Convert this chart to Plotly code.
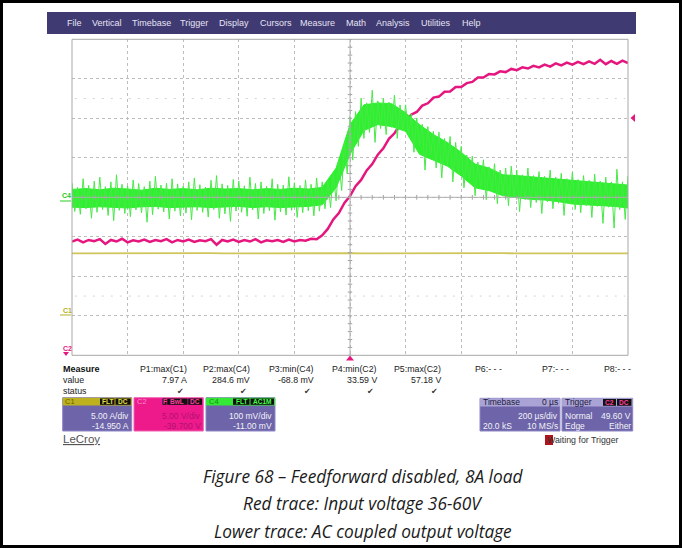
import plotly.graph_objects as go

W, H = 682, 548

# ---------------- data ----------------
TIME_US = list(range(-1000, 1001, 20))          # 200 us/div, trigger at 0 us

# C2 : input voltage (V), 5 V/div, offset -39.700 V
C2_INPUT_V = [
    34.1, 34.35, 34.0, 34.3, 34.15, 34.4, 33.8, 34.3, 34.1, 34.45,
    34.0, 34.25, 34.1, 34.35, 34.05, 34.3, 34.15, 34.4, 34.0, 34.3,
    34.1, 34.35, 34.05, 34.25, 34.15, 34.4, 33.7, 34.3, 34.1, 34.35,
    34.05, 34.3, 34.1, 34.4, 34.0, 34.25, 34.15, 34.3, 34.05, 34.35,
    34.1, 34.3, 34.2, 34.45, 34.4, 34.9, 35.7, 36.9, 37.7, 39.0,
    39.85, 41.1, 41.9, 43.1, 43.9, 45.1, 45.9, 47.1, 47.8, 48.85,
    49.3, 50.15, 50.5, 51.3, 51.6, 52.3, 52.45, 53.05, 53.1, 53.65,
    53.65, 54.15, 54.3, 54.85, 54.85, 55.3, 55.25, 55.65, 55.55, 55.95,
    55.8, 56.15, 56.0, 56.35, 56.15, 56.5, 56.25, 56.65, 56.4, 56.75,
    56.5, 56.85, 56.55, 56.9, 56.6, 57.1, 56.55, 56.95, 56.6, 57.0,
    56.7,
]

# C4 : AC coupled output voltage (mV), 100 mV/div, offset -11.00 mV
# noise extremes (spike tips) every 20 us
C4_UPPER_MV = [
    48, 36, 58, 41, 52, 62, 38, 50, 68, 44,
    40, 55, 46, 38, 52, 64, 42, 47, 58, 45,
    39, 50, 60, 43, 37, 54, 66, 45, 41, 56,
    52, 40, 62, 46, 50, 39, 58, 44, 42, 63,
    48, 41, 55, 44, 60, 50, 55, 72, 105, 150,
    215, 228, 262, 250, 282, 255, 262, 252, 270, 245,
    245, 222, 212, 196, 190, 178, 176, 160, 165, 150,
    140, 118, 115, 100, 106, 88, 96, 80, 85, 90,
    80, 68, 85, 66, 76, 64, 80, 62, 72, 58,
    75, 56, 66, 54, 70, 52, 62, 50, 82, 50,
    64,
]
C4_LOWER_MV = [
    -25, -32, -18, -42, -27, -20, -35, -48, -22, -30,
    -38, -21, -28, -52, -33, -19, -26, -44, -24, -36,
    -29, -46, -22, -27, -39, -20, -42, -31, -50, -24,
    -27, -37, -21, -44, -30, -23, -47, -26, -34, -22,
    -40, -28, -23, -36, -24, -18, -15, 2, 28, 70,
    105, 140, 160, 175, 150, 185, 170, 188, 160, 182,
    170, 125, 140, 80, 118, 85, 60, 92, 50, 72,
    35, 55, 15, 38, 5, 28, -5, 18, -10, 10,
    -25, 5, -15, -2, -30, 0, -18, -4, -35, -6,
    -20, -28, -10, -40, -12, -55, -14, -67, -20, -45,
    -25,
]
# dense core of the C4 trace every 50 us
CORE_TIME_US = list(range(-1000, 1001, 50))
C4_CORE_HI_MV = [
    31, 33, 30, 34, 32, 29, 34, 31, 33, 30,
    34, 32, 33, 30, 33, 31, 34, 32, 36, 85,
    195, 245, 250, 248, 225, 195, 170, 150, 125, 95,
    85, 68, 66, 63, 60, 56, 53, 50, 48, 45,
    42,
]
C4_CORE_LO_MV = [
    -14, -15, -13, -15, -16, -13, -12, -15, -14, -13,
    -15, -14, -12, -15, -13, -15, -13, -12, -8, 35,
    120, 180, 195, 190, 178, 120, 105, 90, 65, 35,
    28, 15, 10, 6, 4, 0, -6, -8, -10, -12,
    -16,
]

# C1 : load current (A), 5 A/div, offset -14.950 A
C1_TIME_US = list(range(-1000, 1001, 50))
C1_LOAD_A = [
    7.86, 7.87, 7.85, 7.86, 7.88, 7.86, 7.85, 7.87, 7.86, 7.86,
    7.88, 7.85, 7.86, 7.87, 7.86, 7.85, 7.86, 7.88, 7.86, 7.86,
    7.87, 7.85, 7.86, 7.86, 7.88, 7.86, 7.85, 7.86, 7.87, 7.86,
    7.86, 7.88, 7.85, 7.86, 7.87, 7.86, 7.85, 7.88, 7.86, 7.87,
    7.86,
]

MENU_ITEMS = ["File", "Vertical", "Timebase", "Trigger", "Display", "Cursors",
              "Measure", "Math", "Analysis", "Utilities", "Help"]
MEASURE_LABELS = ["P1:max(C1)", "P2:max(C4)", "P3:min(C4)", "P4:min(C2)",
                  "P5:max(C2)", "P6:- - -", "P7:- - -", "P8:- - -"]
MEASURE_VALUES = ["7.97 A", "284.6 mV", "-68.8 mV", "33.59 V", "57.18 V", "", "", ""]
MEASURE_OK = [True, True, True, True, True, False, False, False]
CAPTION = ["Figure 68 \u2013 Feedforward disabled, 8A load",
           "Red trace: Input voltage 36-60V",
           "Lower trace: AC coupled output voltage"]

# ---------------- layout helpers ----------------
SANS = "Liberation Sans, Arial, sans-serif"
PURPLE = "#3f3a72"
BOXP = "#6d64a9"
PINK = "#e5177f"
GREEN = "#2ef02e"
YEL = "#cfc55a"

def X(p):
    return p / W

def Y(p):
    return 1 - p / H

shapes, ann = [], []

def rect(x0, y0, x1, y1, fill=None, line=None, lw=0):
    shapes.append(dict(type="rect", xref="paper", yref="paper",
                       x0=X(x0), x1=X(x1), y0=Y(y1), y1=Y(y0),
                       fillcolor=fill or "rgba(0,0,0,0)",
                       line=dict(color=line or "rgba(0,0,0,0)", width=lw)))

def poly(pts, fill):
    d = "M " + " L ".join(f"{X(a):.5f},{Y(b):.5f}" for a, b in pts) + " Z"
    shapes.append(dict(type="path", xref="paper", yref="paper", path=d,
                       fillcolor=fill, line=dict(width=0)))

def txt(x, y, s, size=8.8, color="#222", anchor="left", family=SANS):
    ann.append(dict(xref="paper", yref="paper", x=X(x), y=Y(y), text=s,
                    showarrow=False, xanchor=anchor, yanchor="middle",
                    borderpad=0, font=dict(size=size, color=color, family=family)))

# ---------------- traces ----------------
fig = go.Figure()
fig.add_trace(go.Scatter(x=C1_TIME_US, y=C1_LOAD_A, yaxis="y4", mode="lines",
                         line=dict(color=YEL, width=1.8), hoverinfo="skip"))
# C4 dense core
fig.add_trace(go.Scatter(x=CORE_TIME_US, y=C4_CORE_LO_MV, yaxis="y3", mode="lines",
                         line=dict(color=GREEN, width=1), hoverinfo="skip"))
fig.add_trace(go.Scatter(x=CORE_TIME_US, y=C4_CORE_HI_MV, yaxis="y3", mode="lines",
                         fill="tonexty", fillcolor=GREEN,
                         line=dict(color=GREEN, width=1), hoverinfo="skip"))
# C4 noise: zig-zag between the extremes
zz_x, zz_y = [], []
for t, u, l in zip(TIME_US, C4_UPPER_MV, C4_LOWER_MV):
    zz_x += [t, t + 10]
    zz_y += [u, l]
fig.add_trace(go.Scatter(x=zz_x, y=zz_y, yaxis="y3", mode="lines",
                         line=dict(color="#48e848", width=1), hoverinfo="skip"))
fig.add_trace(go.Scatter(x=TIME_US, y=C2_INPUT_V, yaxis="y2", mode="lines",
                         line=dict(color=PINK, width=2.5), hoverinfo="skip"))

# ---------------- graticule ----------------
GX0, GX1, GY0, GY1 = 72, 628, 39.3, 355.3
rect(GX0, GY0, GX1, GY1, line="#a8a8a8", lw=1)
for j in range(-25, 26):
    shapes.append(dict(type="line", xref="x", yref="y", x0=j * 40, x1=j * 40,
                       y0=-0.06, y1=0.06, line=dict(color="#a0a0a0", width=1)))
for j in range(-20, 21):
    shapes.append(dict(type="line", xref="x", yref="y", x0=-8, x1=8,
                       y0=j * 0.2, y1=j * 0.2, line=dict(color="#a0a0a0", width=1)))
shapes.append(dict(type="line", xref="x", yref="y", x0=-1000, x1=1000, y0=0, y1=0,
                   line=dict(color="#b0b0b0", width=1)))
shapes.append(dict(type="line", xref="x", yref="y", x0=0, x1=0, y0=-4, y1=4,
                   line=dict(color="#b0b0b0", width=1)))
for yy in (2.5, -2.5):
    shapes.append(dict(type="line", xref="x", yref="y", x0=-990, x1=990, y0=yy, y1=yy,
                       line=dict(color="#d2d2d2", width=1, dash="2px,7px")))

# ---------------- frame + menu ----------------
rect(1.5, 1.5, 680.5, 546.5, line="#000", lw=3)
rect(47, 12, 636, 34, fill=PURPLE)
menu_x = [66, 90.8, 131.1, 178.9, 217.7, 258.5, 299.3, 345.2, 375, 419.8, 460.6]
for mx, m in zip(menu_x, MENU_ITEMS):
    txt(mx, 22.5, m, size=9, color="#e6e4f2")

# channel markers on the left / trigger markers
txt(61, 195.5, "<b>C4</b>", size=7, color="#22cc22")
rect(60, 200.5, 71, 201.5, fill="#22cc22")
txt(62, 310, "<b>C1</b>", size=7, color="#b8ae20")
rect(60, 314.5, 71, 315.5, fill="#b8ae20")
txt(62, 348, "<b>C2</b>", size=7, color=PINK)
poly([(63, 352), (69, 352), (66, 356)], PINK)
poly([(635, 114), (635, 122), (630.5, 118)], PINK)
poly([(346, 360.5), (354, 360.5), (350, 355.5)], PINK)

# ---------------- measurement table ----------------
txt(62, 368.5, "<b>Measure</b>", size=9, color="#111")
txt(62, 379.5, "value", size=8.8, color="#222")
txt(62, 391, "status", size=8.8, color="#222")
label_right = [188, 250.7, 315, 377.7, 441.7, 503, 570, 631.7]
for r, lab, val, ok in zip(label_right, MEASURE_LABELS, MEASURE_VALUES, MEASURE_OK):
    txt(r, 368.5, lab, size=8.8, color="#222", anchor="right")
    if val:
        txt(r, 379.5, val, size=8.8, color="#222", anchor="right")
    if ok:
        txt(r - 3, 391, "\u2714", size=8, color="#333", anchor="right",
            family="DejaVu Sans")

def badge(x0, x1, y0, y1, s, col):
    rect(x0, y0, x1, y1, fill="#111")
    txt((x0 + x1) / 2, (y0 + y1) / 2 + 0.3, f"<b>{s}</b>", size=6.5, color=col,
        anchor="center")

# C1 box
rect(62.7, 397.7, 131.7, 431, fill=BOXP, line="#8d86c4", lw=1)
rect(62.7, 397.7, 131.7, 405.5, fill="#bdb11e")
txt(64, 401.6, "C1", size=7.5, color="#6b6200")
badge(100, 114.5, 398.5, 404.8, "FLT", "#e8e040")
badge(115.5, 130.7, 398.5, 404.8, "DC", "#e8e040")
txt(130, 415.8, "5.00 A/div", size=8.5, color="#f2f2f8", anchor="right")
txt(130, 425.6, "-14.950 A", size=8.5, color="#f2f2f8", anchor="right")
# C2 box (selected, pink)
rect(134, 397.7, 203.3, 431, fill="#ee1a8c", line="#f060b0", lw=1)
txt(136, 401.6, "C2", size=7.5, color="#ff8cc8")
badge(162.5, 166.5, 398.5, 404.8, "F", "#ff3fa0")
badge(167.2, 187.5, 398.5, 404.8, "BwL", "#ff3fa0")
badge(188.2, 202, 398.5, 404.8, "DC", "#ff3fa0")
txt(201.5, 415.8, "5.00 V/div", size=8.5, color="#b3106e", anchor="right")
txt(201.5, 425.6, "-39.700 V", size=8.5, color="#b3106e", anchor="right")
# C4 box
rect(206, 397.7, 275, 431, fill=BOXP, line="#8d86c4", lw=1)
rect(206, 397.7, 275, 405.5, fill="#35e835")
txt(208, 401.6, "C4", size=7.5, color="#178a17")
badge(233, 249.5, 398.5, 404.8, "FLT", "#44ff44")
badge(250.5, 274, 398.5, 404.8, "AC1M", "#44ff44")
txt(273, 415.8, "100 mV/div", size=8.5, color="#f2f2f8", anchor="right")
txt(273, 425.6, "-11.00 mV", size=8.5, color="#f2f2f8", anchor="right")

txt(62, 438.5, "<u>LeCroy</u>", size=11.5, color="#555")

# Timebase box
rect(480, 398.3, 560, 431, fill=BOXP, line="#8d86c4", lw=1)
rect(480, 398.3, 560, 406.5, fill="#aaa4d6")
txt(481.7, 402.4, "Timebase", size=8.5, color="#1e1a40")
txt(558.5, 402.4, "0 \u00b5s", size=8.5, color="#1e1a40", anchor="right")
txt(558.5, 415.8, "200 \u00b5s/div", size=8.5, color="#f2f2f8", anchor="right")
txt(481.7, 425.6, "20.0 kS", size=8.5, color="#f2f2f8")
txt(558.5, 425.6, "10 MS/s", size=8.5, color="#f2f2f8", anchor="right")
# Trigger box
rect(562, 398.3, 632.7, 431, fill=BOXP, line="#8d86c4", lw=1)
rect(562, 398.3, 632.7, 406.5, fill="#aaa4d6")
txt(564, 402.4, "Trigger", size=8.5, color="#1e1a40")
badge(603, 616, 399, 405.8, "C2", "#ff3fa0")
badge(617, 631.5, 399, 405.8, "DC", "#ff3fa0")
txt(564, 415.8, "Normal", size=8.5, color="#f2f2f8")
txt(631.5, 415.8, "49.60 V", size=8.5, color="#f2f2f8", anchor="right")
txt(564, 425.6, "Edge", size=8.5, color="#f2f2f8")
txt(631.5, 425.6, "Either", size=8.5, color="#f2f2f8", anchor="right")

rect(545, 435, 553, 445, fill="#b0141a")
txt(545.5, 440, "Waiting for Trigger", size=8.8, color="#333")

# caption
for k, line in enumerate(CAPTION):
    txt(363, 476 + 27.5 * k, f"<i>{line}</i>", size=17.3, color="#1a1a1a",
        anchor="center", family="Open Sans, Liberation Sans, sans-serif")

# ---------------- axes ----------------
hidden = dict(showgrid=False, zeroline=False, showticklabels=False, ticks="",
              showline=False, fixedrange=True)
fig.update_layout(
    width=W, height=H, autosize=False,
    margin=dict(l=0, r=0, t=0, b=0, pad=0),
    paper_bgcolor="white", plot_bgcolor="white",
    showlegend=False,
    xaxis=dict(domain=[X(GX0), X(GX1)], range=[-1000, 1000], dtick=200, tick0=0,
               showgrid=True, gridcolor="#bdbdbd", griddash="dot", gridwidth=1,
               zeroline=False, showticklabels=False, ticks="", showline=False),
    yaxis=dict(domain=[Y(GY1), Y(GY0)], range=[-4, 4], dtick=1, tick0=0,
               showgrid=True, gridcolor="#bdbdbd", griddash="dot", gridwidth=1,
               zeroline=False, showticklabels=False, ticks="", showline=False),
    yaxis2=dict(overlaying="y", range=[39.7 - 20, 39.7 + 20], **hidden),
    yaxis3=dict(overlaying="y", range=[11 - 400, 11 + 400], **hidden),
    yaxis4=dict(overlaying="y", range=[14.95 - 20, 14.95 + 20], **hidden),
    shapes=shapes,
    annotations=ann,
)

fig.write_html("out.html", config={"displayModeBar": False},
               post_script="document.body.style.margin='0';")
